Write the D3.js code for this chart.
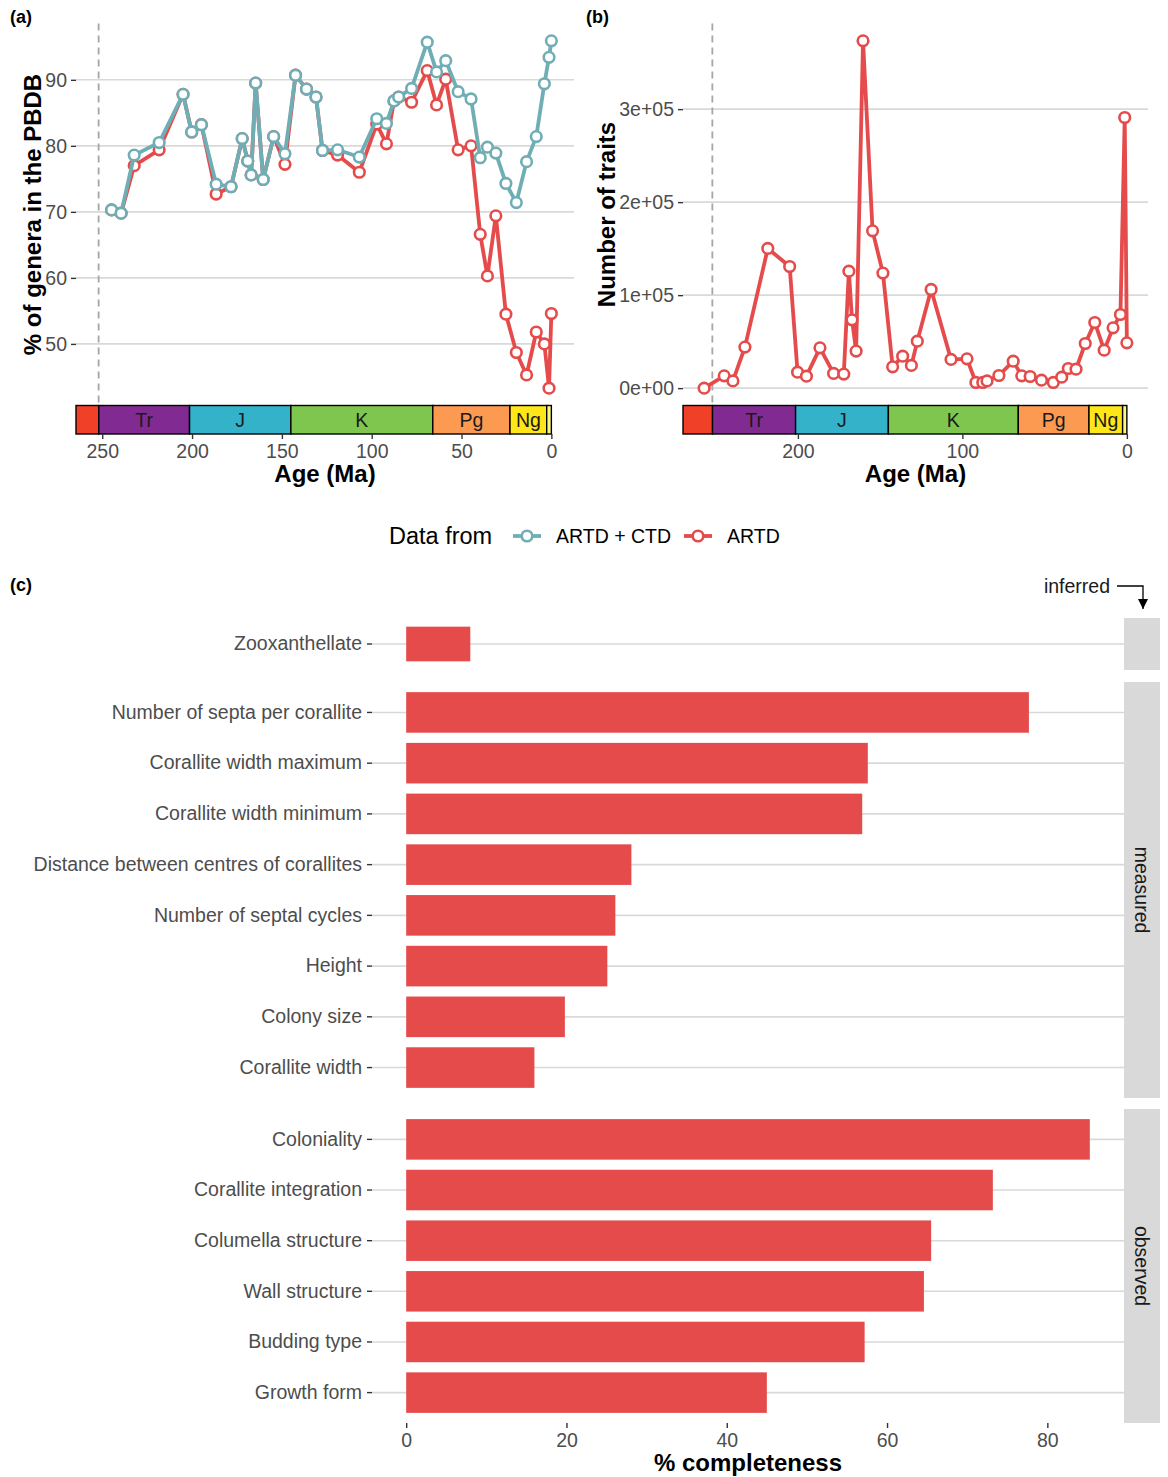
<!DOCTYPE html>
<html>
<head>
<meta charset="utf-8">
<script src="https://cdn.jsdelivr.net/npm/d3@7"></script>
<style>
  body { margin: 0; background: #fff; }
  text { font-family: "Liberation Sans", Arial, sans-serif; }
</style>
</head>
<body>
<script>
// Stage midpoints (Ma) shared by panels (a) and (b)
const ages = [257, 244.8, 239.5, 232.2, 218.3, 205, 200.2, 194.8, 186.6, 178.3, 172.1, 169, 167.1, 164.6,
    160.4, 154.6, 148.3, 142.4, 136.3, 131, 127.4, 119, 106.9, 97.2, 91.8, 87.6, 85, 77.8, 69.1, 63.9,
    58.8, 51.9, 44.7, 39.6, 35.6, 30.9, 25.3, 19.5, 13.8, 8.4, 3.9, 1.3, 0];

// % of genera in the PBDB
const generaBoth = [null, 70.3, 69.8, 78.6, 80.5, 87.8, 82.1, 83.2, 74.2, 73.8, 81.1, 77.7, 75.6, 89.5,
    74.9, 81.4, 78.8, 90.7, 88.6, 87.4, 79.3, 79.4, 78.3, 84.1, 83.4, 86.8, 87.4, 88.7, 95.7, 91.2,
    92.9, 88.2, 87.1, 78.2, 79.8, 78.9, 74.3, 71.4, 77.6, 81.4, 89.4, 93.4, 95.9];
const generaArtd = [null, 70.3, 69.8, 77.0, 79.4, 87.8, 82.1, 83.2, 72.7, 73.8, 81.1, 77.7, 75.6, 89.5,
    74.9, 81.4, 77.2, 90.7, 88.6, 87.4, 79.3, 78.6, 76.0, 83.3, 80.3, 86.8, 87.4, 86.6, 91.4, 86.2,
    90.1, 79.4, 80.0, 66.6, 60.3, 69.4, 54.5, 48.7, 45.3, 51.8, 50.0, 43.3, 54.6];

// Number of traits (ARTD)
const traitCounts = [0, 13200, 7800, 44100, 150200, 130800, 17200, 12900, 43300, 15800, 15100, 125800,
    73400, 39800, 373400, 169100, 123700, 22900, 34400, 24400, 50500, 106100, 30900, 31500, 6100, 6100,
    7800, 13600, 29000, 13200, 12500, 8600, 6100, 11800, 21100, 20400, 48000, 70600, 40800, 64800,
    79200, 291000, 48700];

const ptBoundary = 252;

// Geological periods
const periodNames = ['P', 'Tr', 'J', 'K', 'Pg', 'Ng', 'Q'];
const periodStart = [298.9, 251.9, 201.4, 145, 66, 23.03, 2.58];
const periodEnd = [251.9, 201.4, 145, 66, 23.03, 2.58, 0];
const periodColors = ['#F04028', '#812B92', '#34B2C9', '#7FC64E', '#FD9A52', '#FFE619', '#F9F97F'];
const periodShowLabel = [false, true, true, true, true, true, false];

// Panel (c)
const traitNames = ['Zooxanthellate',
    'Number of septa per corallite', 'Corallite width maximum', 'Corallite width minimum',
    'Distance between centres of corallites', 'Number of septal cycles', 'Height', 'Colony size', 'Corallite width',
    'Coloniality', 'Corallite integration', 'Columella structure', 'Wall structure', 'Budding type', 'Growth form'];
const traitGroup = ['inferred',
    'measured', 'measured', 'measured', 'measured', 'measured', 'measured', 'measured', 'measured',
    'observed', 'observed', 'observed', 'observed', 'observed', 'observed'];
const completeness = [8.0, 77.7, 57.6, 56.9, 28.1, 26.1, 25.1, 19.8, 16.0, 85.3, 73.2, 65.5, 64.6, 57.2, 45.0];
const groups = ['inferred', 'measured', 'observed'];
const completenessTicks = [0, 20, 40, 60, 80];

const TEAL = '#6FAEB5', RED = '#E54B4B', GRID = '#D9D9D9', TXT = '#4D4D4D';
const FS = 19.5;

const svg = d3.select('body').append('svg')
    .attr('width', 1168)
    .attr('height', 1477);

const expand = ([a, b], m = 0.05) => { const p = (b - a) * m; return [a - p, b + p]; };

// Draw a time series panel with timescale bar underneath
function agePanel(opts) {
    const { left, right, top, bottom, xMax, yDomain, yTicks, yFormat, yTitle, yTitleX, series, tag, tagX } = opts;
    const g = svg.append('g');
    const xd = expand([0, xMax]);
    const x = d3.scaleLinear().domain([xd[1], xd[0]]).range([left, right]);
    const y = d3.scaleLinear().domain(expand(yDomain)).range([bottom, top]);

    // gridlines
    g.selectAll('.grid').data(yTicks).enter().append('line')
        .attr('x1', left).attr('x2', right)
        .attr('y1', d => y(d)).attr('y2', d => y(d))
        .attr('stroke', GRID).attr('stroke-width', 1.6);

    // P/T boundary
    g.append('line')
        .attr('x1', x(ptBoundary)).attr('x2', x(ptBoundary))
        .attr('y1', top).attr('y2', bottom + 1)
        .attr('stroke', '#A6A6A6').attr('stroke-width', 1.8)
        .attr('stroke-dasharray', '7,5');

    // y axis
    const yAxis = g.append('g')
        .attr('transform', `translate(${left},0)`)
        .call(d3.axisLeft(y).tickValues(yTicks).tickSize(5).tickPadding(4).tickFormat(yFormat));
    yAxis.select('.domain').remove();
    yAxis.selectAll('line').attr('stroke', '#333').attr('stroke-width', 1.4);
    yAxis.selectAll('text').attr('fill', TXT).style('font-size', FS + 'px');

    g.append('text')
        .attr('transform', `translate(${yTitleX},${(top + bottom) / 2}) rotate(-90)`)
        .attr('text-anchor', 'middle').attr('dy', '0.35em')
        .style('font-size', '24px').style('font-weight', 'bold')
        .text(yTitle);

    // series
    const line = d3.line()
        .defined(d => d[1] != null)
        .x(d => x(d[0])).y(d => y(d[1]));
    series.forEach(s => {
        const pts = ages.map((a, i) => [a, s.values[i]]);
        g.append('path').datum(pts)
            .attr('d', line)
            .attr('fill', 'none').attr('stroke', s.color)
            .attr('stroke-width', 3.8).attr('stroke-linejoin', 'round');
        g.selectAll(null).data(pts.filter(d => d[1] != null)).enter().append('circle')
            .attr('cx', d => x(d[0])).attr('cy', d => y(d[1]))
            .attr('r', 5.3).attr('fill', '#fff')
            .attr('stroke', s.color).attr('stroke-width', 2.6);
    });

    // timescale
    const barTop = bottom, barH = 28.5;
    const domLeft = xd[1];
    const periods = periodNames.map((n, i) => ({
        name: n, s: Math.min(periodStart[i], domLeft), e: Math.max(periodEnd[i], 0),
        color: periodColors[i], show: periodShowLabel[i]
    })).filter(p => p.s > p.e);
    g.selectAll('.period').data(periods).enter().append('rect')
        .attr('x', d => x(d.s)).attr('width', d => x(d.e) - x(d.s))
        .attr('y', barTop).attr('height', barH)
        .attr('fill', d => d.color).attr('stroke', '#000').attr('stroke-width', 1.4);
    g.selectAll('.plabel').data(periods.filter(p => p.show)).enter().append('text')
        .attr('x', d => x((d.s + d.e) / 2)).attr('y', barTop + barH / 2)
        .attr('dy', '0.35em').attr('text-anchor', 'middle')
        .style('font-size', FS + 'px').attr('fill', '#1a1a1a')
        .text(d => d.name);

    // x axis
    const xAxis = g.append('g')
        .attr('transform', `translate(0,${barTop + barH})`)
        .call(d3.axisBottom(x).tickValues(opts.xTicks).tickSize(5).tickPadding(5));
    xAxis.select('.domain').remove();
    xAxis.selectAll('line').attr('stroke', '#333').attr('stroke-width', 1.4);
    xAxis.selectAll('text').attr('fill', TXT).style('font-size', FS + 'px');

    g.append('text')
        .attr('x', (left + right) / 2).attr('y', 482)
        .attr('text-anchor', 'middle')
        .style('font-size', '24px').style('font-weight', 'bold')
        .text('Age (Ma)');

    svg.append('text').attr('x', tagX).attr('y', 23)
        .style('font-size', '18px').style('font-weight', 'bold').text(tag);
}

const fmtSci = v => {
    if (v === 0) return '0e+00';
    const e = Math.floor(Math.log10(v));
    return `${Math.round(v / Math.pow(10, e))}e+${String(e).padStart(2, '0')}`;
};

agePanel({
    left: 76, right: 574, top: 23.5, bottom: 405.5,
    xMax: ptBoundary,
    yDomain: d3.extent(generaBoth.concat(generaArtd).filter(v => v != null)),
    yTicks: [50, 60, 70, 80, 90], yFormat: d3.format('d'),
    yTitle: '% of genera in the PBDB', yTitleX: 33,
    xTicks: [250, 200, 150, 100, 50, 0],
    series: [{ values: generaArtd, color: RED }, { values: generaBoth, color: TEAL }],
    tag: '(a)', tagX: 10
});

agePanel({
    left: 683, right: 1148, top: 23.5, bottom: 405.5,
    xMax: d3.max(ages),
    yDomain: d3.extent(traitCounts),
    yTicks: [0, 1e5, 2e5, 3e5], yFormat: fmtSci,
    yTitle: 'Number of traits', yTitleX: 607,
    xTicks: [200, 100, 0],
    series: [{ values: traitCounts, color: RED }],
    tag: '(b)', tagX: 586
});

// Legend
const legend = svg.append('g').attr('transform', 'translate(0,536)');
legend.append('text').attr('x', 389).attr('dy', '0.35em')
    .style('font-size', '23.5px').text('Data from');
[{ label: 'ARTD + CTD', color: TEAL, x: 513 }, { label: 'ARTD', color: RED, x: 684 }].forEach(k => {
    legend.append('line').attr('x1', k.x).attr('x2', k.x + 28)
        .attr('stroke', k.color).attr('stroke-width', 3.8);
    legend.append('circle').attr('cx', k.x + 14).attr('r', 5.3)
        .attr('fill', '#fff').attr('stroke', k.color).attr('stroke-width', 2.6);
    legend.append('text').attr('x', k.x + 43).attr('dy', '0.35em')
        .style('font-size', FS + 'px').text(k.label);
});

// Panel (c): completeness bars, faceted by trait type
const cLeft = 372, cRight = 1124;
const xc = d3.scaleLinear().domain(expand([0, d3.max(completeness)])).range([cLeft, cRight]);
const facetLayout = { inferred: [618, 670], measured: [682, 1098], observed: [1109, 1423] };
const traits = traitNames.map((n, i) => ({ name: n, group: traitGroup[i], value: completeness[i] }));

svg.append('text').attr('x', 10).attr('y', 591)
    .style('font-size', '18px').style('font-weight', 'bold').text('(c)');

groups.forEach(grp => {
    const [t, b] = facetLayout[grp];
    const rows = traits.filter(d => d.group === grp);
    const yc = d3.scaleBand().domain(rows.map(d => d.name)).range([t, b])
        .paddingInner(0.2).paddingOuter(0.2);
    const g = svg.append('g');

    g.selectAll('.grid').data(rows).enter().append('line')
        .attr('x1', cLeft).attr('x2', cRight)
        .attr('y1', d => yc(d.name) + yc.bandwidth() / 2)
        .attr('y2', d => yc(d.name) + yc.bandwidth() / 2)
        .attr('stroke', GRID).attr('stroke-width', 1.6);

    g.selectAll('.bar').data(rows).enter().append('rect')
        .attr('x', xc(0)).attr('width', d => xc(d.value) - xc(0))
        .attr('y', d => yc(d.name)).attr('height', yc.bandwidth())
        .attr('fill', RED);

    const yAxis = g.append('g').attr('transform', `translate(${cLeft},0)`)
        .call(d3.axisLeft(yc).tickSize(5).tickPadding(5));
    yAxis.select('.domain').remove();
    yAxis.selectAll('line').attr('stroke', '#333').attr('stroke-width', 1.4);
    yAxis.selectAll('text').attr('fill', TXT).style('font-size', FS + 'px');

    // strip
    g.append('rect').attr('x', cRight).attr('y', t)
        .attr('width', 36).attr('height', b - t).attr('fill', '#D9D9D9');
    if (grp !== 'inferred') {
        g.append('text')
            .attr('transform', `translate(${cRight + 18},${(t + b) / 2}) rotate(90)`)
            .attr('text-anchor', 'middle').attr('dy', '0.35em')
            .style('font-size', FS + 'px').attr('fill', '#1a1a1a')
            .text(grp);
    }
});

// "inferred" label with arrow pointing to its strip
svg.append('defs').append('marker')
    .attr('id', 'arrow').attr('viewBox', '0 0 10 10')
    .attr('refX', 10).attr('refY', 5)
    .attr('markerWidth', 10).attr('markerHeight', 10)
    .attr('markerUnits', 'userSpaceOnUse')
    .attr('orient', 'auto')
    .append('path').attr('d', 'M0,0 L10,5 L0,10 Z').attr('fill', '#000');
svg.append('text').attr('x', 1110).attr('y', 586).attr('dy', '0.35em')
    .attr('text-anchor', 'end').style('font-size', FS + 'px').attr('fill', '#1a1a1a')
    .text('inferred');
svg.append('path').attr('d', 'M1117,586 H1143 V609')
    .attr('fill', 'none').attr('stroke', '#000').attr('stroke-width', 1.3)
    .attr('marker-end', 'url(#arrow)');

// x axis (c)
const xcAxis = svg.append('g').attr('transform', 'translate(0,1423)')
    .call(d3.axisBottom(xc).tickValues(completenessTicks).tickSize(5).tickPadding(5));
xcAxis.select('.domain').remove();
xcAxis.selectAll('line').attr('stroke', '#333').attr('stroke-width', 1.4);
xcAxis.selectAll('text').attr('fill', TXT).style('font-size', FS + 'px');

svg.append('text').attr('x', (cLeft + cRight) / 2).attr('y', 1471)
    .attr('text-anchor', 'middle')
    .style('font-size', '24px').style('font-weight', 'bold')
    .text('% completeness');
</script>
</body>
</html>
